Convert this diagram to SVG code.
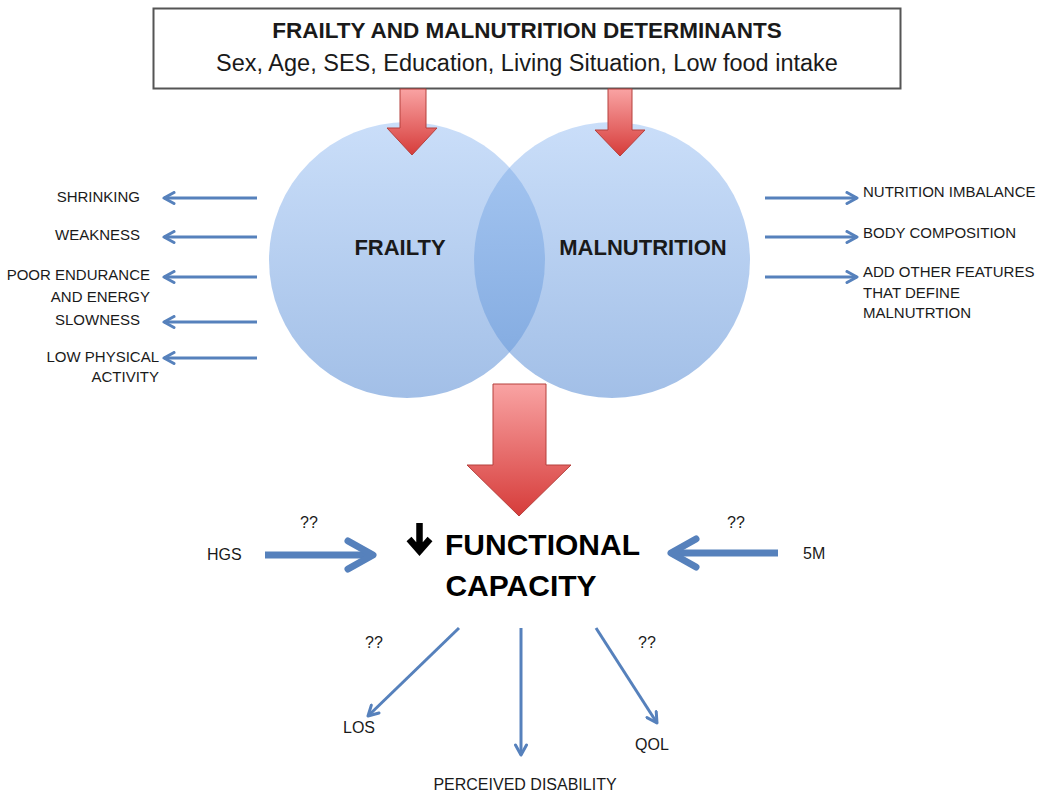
<svg xmlns="http://www.w3.org/2000/svg" width="1042" height="795" viewBox="0 0 1042 795">
<style>
text{font-family:"Liberation Sans",Arial,sans-serif;fill:#1a1a1a}
.hd{font-weight:bold;font-size:22.5px}
.sub{font-size:23.5px}
.side{font-size:15px}
.lbl{font-size:16px}
.cl{font-weight:bold;font-size:22px}
.fc{font-weight:bold;font-size:30px;fill:#000}
.thin{stroke:#5681bc;stroke-width:3;fill:none;marker-end:url(#ah)}
.thick{stroke:#5681bc;stroke-width:7;fill:none;marker-end:url(#ahb)}
.red{stroke:#b5403d;stroke-width:1}
</style>
<defs>
<linearGradient id="gCirc" x1="0" y1="0" x2="0" y2="1">
<stop offset="0" stop-color="#cadef9"/>
<stop offset="1" stop-color="#a2bfe7"/>
</linearGradient>
<linearGradient id="gLens" x1="0" y1="0" x2="0" y2="1">
<stop offset="0" stop-color="#a9c9f3"/>
<stop offset="1" stop-color="#7ea7de"/>
</linearGradient>
<linearGradient id="gRed" x1="0" y1="0" x2="0" y2="1">
<stop offset="0" stop-color="#f9a3a3"/>
<stop offset="1" stop-color="#d63c3a"/>
</linearGradient>
<clipPath id="cpRight"><circle cx="612" cy="260" r="138"/></clipPath>
<marker id="ah" markerUnits="userSpaceOnUse" viewBox="0 0 14 14" refX="12" refY="7" markerWidth="14" markerHeight="14" orient="auto">
<path d="M2,1.5 L12,7 L2,12.5" fill="none" stroke="#5681bc" stroke-width="3" stroke-linecap="round" stroke-linejoin="round"/>
</marker>
<marker id="ahb" markerUnits="userSpaceOnUse" viewBox="0 0 36 36" refX="31" refY="18" markerWidth="36" markerHeight="36" orient="auto">
<path d="M6,4 L31,18 L6,32" fill="none" stroke="#5681bc" stroke-width="7" stroke-linecap="round" stroke-linejoin="round"/>
</marker>
</defs>
<rect width="1042" height="795" fill="#fff"/>

<g id="determinants">
<rect x="153.5" y="8.5" width="747" height="80" fill="#fff" stroke="#555" stroke-width="2"/>
<text class="hd" x="527" y="38" text-anchor="middle">FRAILTY AND MALNUTRITION DETERMINANTS</text>
<text class="sub" x="527" y="71" text-anchor="middle">Sex, Age, SES, Education, Living Situation, Low food intake</text>
</g>

<g id="frailty">
<circle cx="407" cy="260" r="138" fill="url(#gCirc)"/>
<text class="cl" x="400" y="255" text-anchor="middle">FRAILTY</text>
</g>
<g id="malnutrition">
<circle cx="612" cy="260" r="138" fill="url(#gCirc)"/>
<circle cx="407" cy="260" r="138" fill="url(#gLens)" clip-path="url(#cpRight)"/>
<text class="cl" x="643" y="255" text-anchor="middle">MALNUTRITION</text>
</g>

<g id="red-arrows">
<path class="red" d="M400,89 H426 V128 H437 L412,155 L387,128 H400 Z" fill="url(#gRed)"/>
<path class="red" d="M608,89 H632 V130 H645 L620,156 L595,130 H608 Z" fill="url(#gRed)"/>
<path class="red" d="M493,384 H546 V465 H571 L519,516 L467,465 H493 Z" fill="url(#gRed)"/>
</g>

<g id="frailty-features">
<text class="side" x="140" y="202" text-anchor="end">SHRINKING</text>
<text class="side" x="140" y="240" text-anchor="end">WEAKNESS</text>
<text class="side" x="150" y="280" text-anchor="end">POOR ENDURANCE</text>
<text class="side" x="150" y="302" text-anchor="end">AND ENERGY</text>
<text class="side" x="140" y="325" text-anchor="end">SLOWNESS</text>
<text class="side" x="159" y="362" text-anchor="end">LOW PHYSICAL</text>
<text class="side" x="159" y="382" text-anchor="end">ACTIVITY</text>
</g>

<g id="malnutrition-features">
<text class="side" x="863" y="197">NUTRITION IMBALANCE</text>
<text class="side" x="863" y="238">BODY COMPOSITION</text>
<text class="side" x="863" y="277">ADD OTHER FEATURES</text>
<text class="side" x="863" y="298">THAT DEFINE</text>
<text class="side" x="863" y="318">MALNUTRTION</text>
</g>

<g id="functional-capacity">
<path d="M419.5,523 V549 M409,539 L419.5,551 L430,539" fill="none" stroke="#000" stroke-width="6.5" stroke-linecap="butt" stroke-linejoin="miter"/>
<text class="fc" x="445" y="555">FUNCTIONAL</text>
<text class="fc" x="521" y="596" text-anchor="middle">CAPACITY</text>
</g>

<g id="hgs">
<text class="lbl" x="207" y="560">HGS</text>
<text class="lbl" x="300" y="528">??</text>
</g>
<g id="fivem">
<text class="lbl" x="803" y="559">5M</text>
<text class="lbl" x="727" y="528">??</text>
</g>
<g id="los">
<text class="lbl" x="343" y="733">LOS</text>
<text class="lbl" x="365" y="648">??</text>
</g>
<g id="perceived-disability">
<text class="lbl" x="525" y="790" text-anchor="middle">PERCEIVED DISABILITY</text>
</g>
<g id="qol">
<text class="lbl" x="635" y="750">QOL</text>
<text class="lbl" x="638" y="648">??</text>
</g>

<g id="connectors">
<line class="thin" x1="257" y1="198" x2="164" y2="198"/>
<line class="thin" x1="257" y1="237" x2="164" y2="237"/>
<line class="thin" x1="257" y1="277" x2="164" y2="277"/>
<line class="thin" x1="257" y1="322" x2="164" y2="322"/>
<line class="thin" x1="257" y1="358" x2="164" y2="358"/>
<line class="thin" x1="765" y1="198" x2="857" y2="198"/>
<line class="thin" x1="765" y1="237" x2="857" y2="237"/>
<line class="thin" x1="765" y1="277" x2="857" y2="277"/>
<line class="thick" x1="265" y1="555" x2="373" y2="555"/>
<line class="thick" x1="778" y1="553" x2="671" y2="553"/>
<line class="thin" x1="459" y1="628" x2="368" y2="716"/>
<line class="thin" x1="521" y1="628" x2="521" y2="755"/>
<line class="thin" x1="596" y1="628" x2="657" y2="723"/>
</g>
</svg>
